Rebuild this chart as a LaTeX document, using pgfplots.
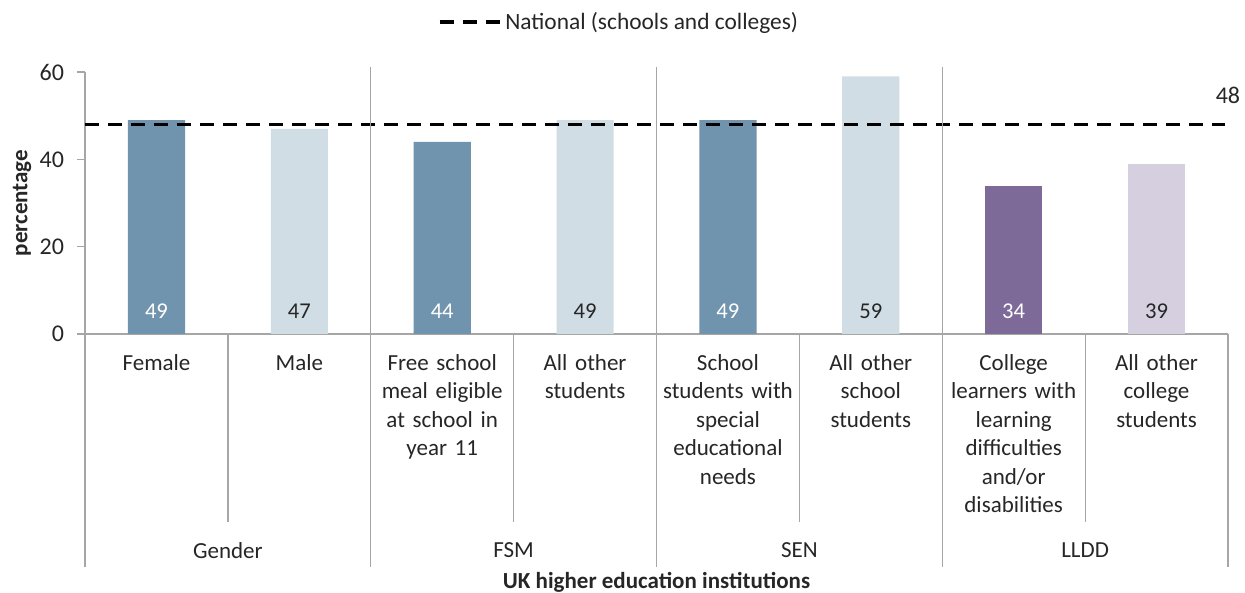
\documentclass[border=0pt]{standalone}
\usepackage{fontspec}
\setmainfont{Carlito}
\usepackage{pgfplots}
\pgfplotsset{compat=1.18}
\definecolor{dkblue}{HTML}{7094AE}
\definecolor{ltblue}{HTML}{D0DDE5}
\definecolor{dkpurp}{HTML}{7E6A99}
\definecolor{ltpurp}{HTML}{D5CFE0}
\definecolor{axgray}{HTML}{A6A6A6}
\definecolor{txt}{HTML}{262626}
\begin{document}
\fontsize{11.5}{14.25}\selectfont
\begin{tikzpicture}[font=\fontsize{11.5}{14.25}\selectfont, text=txt]
\begin{axis}[
  scale only axis, width=571.5pt, height=131pt,
  xmin=-0.5, xmax=7.5, ymin=0, ymax=60,
  axis x line*=bottom, axis y line*=left,
  axis line style={axgray, line width=0.6pt},
  ytick={0,20,40,60},
  tick align=outside,
  major tick length=4pt,
  ytick style={axgray, line width=0.6pt},
  xtick={0,...,7},
  xtick style={draw=none},
  xticklabels={{Female},{Male},{Free school\\meal eligible\\at school in\\year 11},{All other\\students},{School\\students with\\special\\educational\\needs},{All other\\school\\students},{College\\learners with\\learning\\difficulties\\and/or\\disabilities},{All other\\college\\students}},
  xticklabel style={anchor=north, inner sep=0pt, align=center, text width=70pt, yshift=-6pt, font=\fontsize{11.5}{14.25}\selectfont},
  yticklabel style={/pgf/number format/assume math mode=true, font=\fontsize{12}{14}\selectfont, xshift=-2.5pt},
  ylabel={percentage},
  ylabel style={at={(rel axis cs:-0.0551,0.5)}, anchor=center, font=\fontsize{11.5}{14}\selectfont\bfseries},
  xlabel={UK higher education institutions},
  xlabel style={at={(axis cs:3.5,-56.9)}, anchor=center, font=\fontsize{11.5}{14}\selectfont\bfseries, inner sep=0pt},
  clip=false,
  legend style={at={(0.468,1.19)}, anchor=center, draw=none, fill=none, legend cell align=left, font=\fontsize{11.7}{14}\selectfont},
  legend image code/.code={\draw[#1] (0pt,0pt) -- (30pt,0pt);},
]
\addplot[ybar, bar width=0.4, bar shift=0pt, fill=dkblue, draw=none, forget plot] coordinates {(0,49) (2,44) (4,49)};
\addplot[ybar, bar width=0.4, bar shift=0pt, fill=ltblue, draw=none, forget plot] coordinates {(1,47) (3,49) (5,59)};
\addplot[ybar, bar width=0.4, bar shift=0pt, fill=dkpurp, draw=none, forget plot] coordinates {(6,34)};
\addplot[ybar, bar width=0.4, bar shift=0pt, fill=ltpurp, draw=none, forget plot] coordinates {(7,39)};
\addplot[black, line width=1.75pt, dash pattern=on 7pt off 4.5pt] coordinates {(-0.5,48) (7.48,48)};
\addlegendentry{National (schools and colleges)}
% value labels
\begin{scope}[font=\fontsize{11.3}{13}\selectfont]
\node[text=white] at (axis cs:0,5.3) {49};
\node at (axis cs:1,5.3) {47};
\node[text=white] at (axis cs:2,5.3) {44};
\node at (axis cs:3,5.3) {49};
\node[text=white] at (axis cs:4,5.3) {49};
\node at (axis cs:5,5.3) {59};
\node[text=white] at (axis cs:6,5.3) {34};
\node at (axis cs:7,5.3) {39};
\node[font=\fontsize{12}{14}\selectfont] at (axis cs:7.5,54.7) {48};
\end{scope}
% separators
\pgfplotsinvokeforeach{1.5,3.5,5.5}{\draw[axgray, line width=0.6pt] (axis cs:#1,61.2) -- (axis cs:#1,-53.4);}
\pgfplotsinvokeforeach{0.5,2.5,4.5,6.5}{\draw[axgray, line width=0.6pt] (axis cs:#1,0) -- (axis cs:#1,-43);}
\draw[axgray, line width=0.6pt] (axis cs:-0.5,0) -- (axis cs:-0.5,-53.4);
\draw[axgray, line width=0.6pt] (axis cs:7.5,0) -- (axis cs:7.5,-53.4);
% group labels
\node at (axis cs:0.5,-49.5) {Gender};
\node at (axis cs:2.5,-49.5) {FSM};
\node at (axis cs:4.5,-49.5) {SEN};
\node at (axis cs:6.5,-49.5) {LLDD};
\coordinate (bl) at (rel axis cs:-0.0744,-0.9885);
\coordinate (tr) at (rel axis cs:1.0149,1.2748);
\end{axis}
\pgfresetboundingbox
\useasboundingbox (bl) rectangle (tr);
\end{tikzpicture}
\end{document}
